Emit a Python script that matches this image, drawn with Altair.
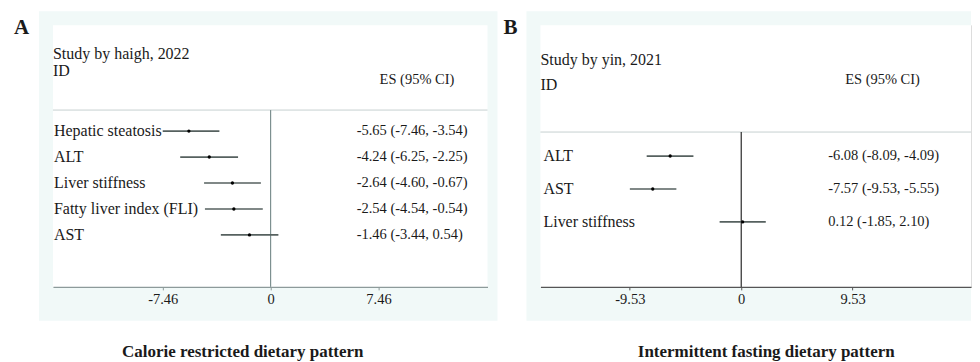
import altair as alt
import pandas as pd

# ---------------- data ----------------
A_labels = ["Hepatic steatosis", "ALT", "Liver stiffness", "Fatty liver index (FLI)", "AST"]
A_es = [-5.65, -4.24, -2.64, -2.54, -1.46]
A_lo = [-7.46, -6.25, -4.60, -4.54, -3.44]
A_hi = [-3.54, -2.25, -0.67, -0.54, 0.54]
A_ticks = [-7.46, 0, 7.46]

B_labels = ["ALT", "AST", "Liver stiffness"]
B_es = [-6.08, -7.57, 0.12]
B_lo = [-8.09, -9.53, -1.85]
B_hi = [-4.09, -5.55, 2.10]
B_ticks = [-9.53, 0, 9.53]

FONT = "Liberation Serif"
FRAME = "#f1f9f8"
TXT = "#1a1a1a"


def one(**kw):
    return pd.DataFrame({k: [v] for k, v in kw.items()})


def panel(labels, es, lo, hi, ticks, letter, study, bottom, xdom, w, h,
          row0, rowstep, sep_y, study_y, id_y, es_head_x, es_head_y,
          es_x, label_x, zero_color, axis_color, title_x, letter_x, frame_right):
    df = pd.DataFrame({
        "label": labels, "es": es, "lo": lo, "hi": hi,
        "row": list(range(1, len(labels) + 1)),
    })
    df["txt"] = [f"{e:.2f} ({a:.2f}, {b:.2f})" for e, a, b in zip(es, lo, hi)]

    xscale = alt.Scale(domain=xdom, nice=False, zero=False)
    xaxis = alt.Axis(values=ticks, labelExpr="toString(datum.value)", title=None,
                     grid=False, domainColor=axis_color, domainWidth=1.2,
                     tickColor=axis_color, tickSize=3, tickWidth=1,
                     labelFont=FONT, labelFontSize=14.5, labelColor=TXT,
                     labelPadding=3, zindex=1)
    yscale = alt.Scale(domain=[-row0 / rowstep, (h - row0) / rowstep],
                       nice=False, zero=False, reverse=True)
    X = lambda f: alt.X(f, type="quantitative", scale=xscale, axis=xaxis)
    Y = alt.Y("row:Q", scale=yscale, axis=None)

    base1 = alt.Chart(one(a=0))
    frame = base1.mark_rect(color=FRAME).encode(
        x=alt.value(-14), x2=alt.value(w + frame_right),
        y=alt.value(-14), y2=alt.value(h + 34))
    white = base1.mark_rect(color="white").encode(
        x=alt.value(0), x2=alt.value(w), y=alt.value(0), y2=alt.value(h))
    sep = base1.mark_rule(color="#c6d0d0", strokeWidth=1).encode(
        x=alt.value(0), x2=alt.value(w), y=alt.value(sep_y))
    zero = alt.Chart(pd.DataFrame({"z": [0]})).mark_rule(
        color=zero_color, strokeWidth=1.2).encode(
        x=X("z"), y=alt.value(sep_y), y2=alt.value(h))

    ci = alt.Chart(df).mark_rule(color="#56615f", strokeWidth=1.7).encode(
        x=X("lo"), x2="hi:Q", y=Y)
    pts = alt.Chart(df).mark_point(filled=True, color="black", size=11, opacity=1).encode(
        x=X("es"), y=Y)
    lab = alt.Chart(df).mark_text(align="left", baseline="middle", font=FONT,
                                  fontSize=16, color=TXT).encode(
        x=alt.value(label_x), y=Y, text="label:N")
    num = alt.Chart(df).mark_text(align="left", baseline="middle", font=FONT,
                                  fontSize=14.5, color=TXT).encode(
        x=alt.value(es_x), y=Y, text="txt:N")

    def txt(s, x, y, size=16, weight="normal", align="left"):
        return alt.Chart(pd.DataFrame({"t": [s]})).mark_text(
            align=align, baseline="alphabetic", font=FONT, fontSize=size,
            fontWeight=weight, color=TXT).encode(
            x=alt.value(x), y=alt.value(y), text="t:N")

    heads = [
        txt(study, 0, study_y),
        txt("ID", 0, id_y),
        txt("ES (95% CI)", es_head_x, es_head_y, size=14.5),
        txt(letter, letter_x, 9, size=21, weight="bold"),
        txt(bottom, title_x, 332, size=17, weight="bold", align="center"),
    ]
    return alt.layer(frame, white, sep, zero, ci, pts, lab, num, *heads).properties(
        width=w, height=h)


pA = panel(A_labels, A_es, A_lo, A_hi, A_ticks, "A", "Study by haigh, 2022",
           "Calorie restricted dietary pattern", [-15.05, 15.0], 435, 262,
           row0=80, rowstep=26, sep_y=85, study_y=34, id_y=51,
           es_head_x=327, es_head_y=59, es_x=304, label_x=1,
           zero_color="#7d9090", axis_color="#8d9a9a", title_x=190,
           letter_x=-39, frame_right=10)

pB = panel(B_labels, B_es, B_lo, B_hi, B_ticks, "B", "Study by yin, 2021",
           "Intermittent fasting dietary pattern", [-17.18, 19.66], 431, 262,
           row0=98, rowstep=33, sep_y=107, study_y=40, id_y=65,
           es_head_x=305, es_head_y=59, es_x=288, label_x=3,
           zero_color="#2a2a2a", axis_color="#555555", title_x=226,
           letter_x=-37, frame_right=0)

chart = alt.hconcat(pA, pB, spacing=53, bounds="flush").properties(
    padding={"left": 5, "top": 2, "right": 0, "bottom": 0}
).configure_view(strokeWidth=0).configure(background="white")

chart.save("out.html", embed_options={"renderer": "svg", "actions": False})
